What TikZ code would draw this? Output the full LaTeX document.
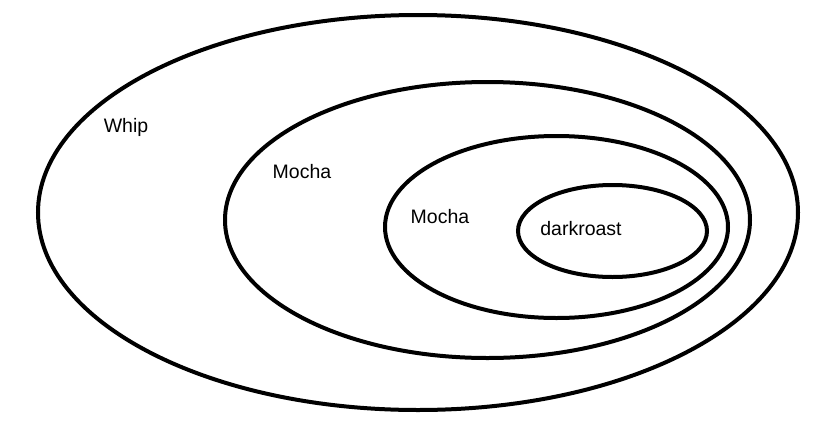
\documentclass[tikz,border=0pt]{standalone}
\usepackage{fontspec}
\setmainfont{Liberation Sans}
\usetikzlibrary{shapes.geometric}
\begin{document}
\begin{tikzpicture}[x=1pt,y=-1pt,
  ring/.style={draw=black,line width=4pt,ellipse,inner sep=0pt},
  lbl/.style={font=\fontsize{19.5}{22}\selectfont,inner sep=0pt}]
\useasboundingbox (0,0) rectangle (823,437);
\node[ring,minimum width=760pt,minimum height=395pt] (whipring) at (418,212.5) {};
\node[ring,minimum width=525pt,minimum height=276pt] (mocharing1) at (487.5,220) {};
\node[ring,minimum width=343pt,minimum height=182pt] (mocharing2) at (556.5,227) {};
\node[ring,minimum width=189pt,minimum height=92pt] (roastring) at (612.5,231) {};
\node[lbl] (whip) at (126,127) {Whip};
\node[lbl] (mocha1) at (302,172) {Mocha};
\node[lbl] (mocha2) at (440,217) {Mocha};
\node[lbl] (roast) at (581,229) {darkroast};
\end{tikzpicture}
\end{document}
